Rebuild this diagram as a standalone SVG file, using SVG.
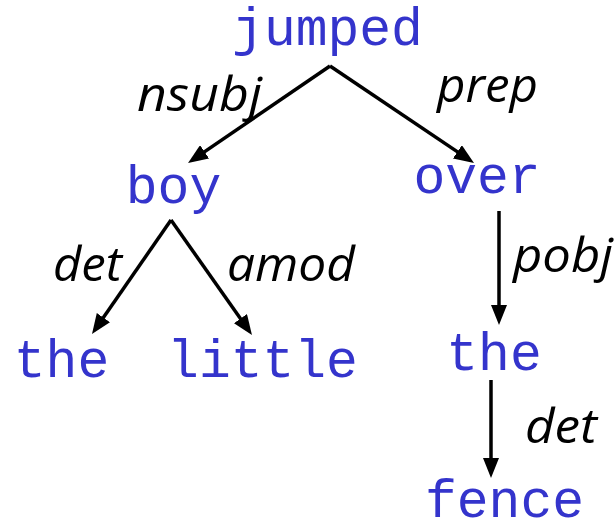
<svg xmlns="http://www.w3.org/2000/svg" width="615" height="523" viewBox="0 0 615 523">
<style>
.w{font-family:"Liberation Mono","Courier New",monospace;font-size:53px;fill:#3434CC;text-anchor:middle}
.l{font-family:"Open Sans","DejaVu Sans",sans-serif;font-style:italic;font-size:48px;fill:#000}
.c{stroke:#000;stroke-width:3.5;fill:none;marker-end:url(#ah)}
</style>
<defs>
<marker id="ah" viewBox="0 0 20 16" refX="10" refY="8" markerWidth="20" markerHeight="16" markerUnits="userSpaceOnUse" orient="auto">
<path d="M0,0 L20,8 L0,16 z" fill="#000"/>
</marker>
</defs>
<rect width="615" height="523" fill="#fff"/>
<g id="connectors">
<line class="c" x1="330" y1="66" x2="196.3" y2="157.4"/>
<line class="c" x1="330" y1="66" x2="465.7" y2="157.4"/>
<line class="c" x1="171" y1="220" x2="97.7" y2="325.8"/>
<line class="c" x1="171" y1="220" x2="246.2" y2="326.8"/>
<line class="c" x1="499" y1="211" x2="499" y2="315"/>
<line class="c" x1="491" y1="380" x2="491" y2="468"/>
<text class="l" x="137" y="111" textLength="125" lengthAdjust="spacingAndGlyphs">nsubj</text>
<text class="l" x="437" y="102" textLength="101" lengthAdjust="spacingAndGlyphs">prep</text>
<text class="l" x="53" y="281" textLength="69" lengthAdjust="spacingAndGlyphs">det</text>
<text class="l" x="227" y="281" textLength="128" lengthAdjust="spacingAndGlyphs">amod</text>
<text class="l" x="513" y="272" textLength="100" lengthAdjust="spacingAndGlyphs">pobj</text>
<text class="l" x="525" y="443" textLength="72" lengthAdjust="spacingAndGlyphs">det</text>
</g>
<g id="jumped"><text class="w" x="327.5" y="45">jumped</text></g>
<g id="boy"><text class="w" x="173.5" y="203">boy</text></g>
<g id="over"><text class="w" x="477" y="193">over</text></g>
<g id="the1"><text class="w" x="61.5" y="377">the</text></g>
<g id="little"><text class="w" x="262.5" y="377">little</text></g>
<g id="the2"><text class="w" x="494" y="370">the</text></g>
<g id="fence"><text class="w" x="504.5" y="517">fence</text></g>
</svg>
